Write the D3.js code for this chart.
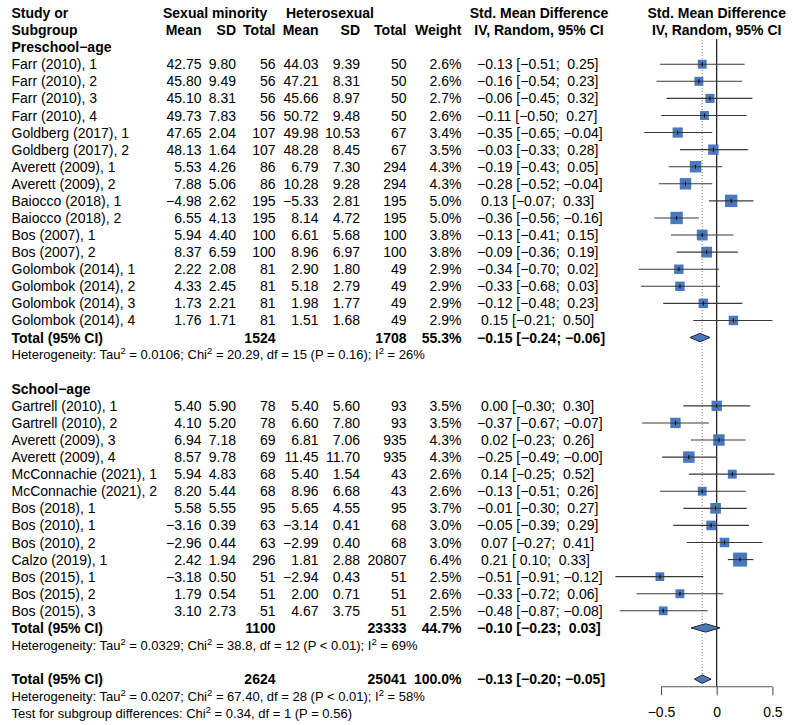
<!DOCTYPE html>
<html>
<head>
<meta charset="utf-8">
<script src="https://cdn.jsdelivr.net/npm/d3@7"></script>
<style>
  body { margin: 0; background: #fff; }
  svg { display: block; }
  text { font-family: "Liberation Sans", Arial, Helvetica, sans-serif; fill: #000; white-space: pre; }
</style>
</head>
<body>
<svg id="chart" width="793" height="725"></svg>
<script>
// ---------- DATA ----------
const studies = [
  "Farr (2010), 1","Farr (2010), 2","Farr (2010), 3","Farr (2010), 4",
  "Goldberg (2017), 1","Goldberg (2017), 2","Averett (2009), 1","Averett (2009), 2",
  "Baiocco (2018), 1","Baiocco (2018), 2","Bos (2007), 1","Bos (2007), 2",
  "Golombok (2014), 1","Golombok (2014), 2","Golombok (2014), 3","Golombok (2014), 4",
  "Gartrell (2010), 1","Gartrell (2010), 2","Averett (2009), 3","Averett (2009), 4",
  "McConnachie (2021), 1","McConnachie (2021), 2","Bos (2018), 1","Bos (2010), 1",
  "Bos (2010), 2","Calzo (2019), 1","Bos (2015), 1","Bos (2015), 2","Bos (2015), 3"
];
const studyGroup = [0,0,0,0,0,0,0,0,0,0,0,0,0,0,0,0, 1,1,1,1,1,1,1,1,1,1,1,1,1];
const minorityMean = [42.75,45.80,45.10,49.73,47.65,48.13,5.53,7.88,-4.98,6.55,5.94,8.37,2.22,4.33,1.73,1.76,
  5.40,4.10,6.94,8.57,5.94,8.20,5.58,-3.16,-2.96,2.42,-3.18,1.79,3.10];
const minoritySD = [9.80,9.49,8.31,7.83,2.04,1.64,4.26,5.06,2.62,4.13,4.40,6.59,2.08,2.45,2.21,1.71,
  5.90,5.20,7.18,9.78,4.83,5.44,5.55,0.39,0.44,1.94,0.50,0.54,2.73];
const minorityN = [56,56,56,56,107,107,86,86,195,195,100,100,81,81,81,81,
  78,78,69,69,68,68,95,63,63,296,51,51,51];
const heteroMean = [44.03,47.21,45.66,50.72,49.98,48.28,6.79,10.28,-5.33,8.14,6.61,8.96,2.90,5.18,1.98,1.51,
  5.40,6.60,6.81,11.45,5.40,8.96,5.65,-3.14,-2.99,1.81,-2.94,2.00,4.67];
const heteroSD = [9.39,8.31,8.97,9.48,10.53,8.45,7.30,9.28,2.81,4.72,5.68,6.97,1.80,2.79,1.77,1.68,
  5.60,7.80,7.06,11.70,1.54,6.68,4.55,0.41,0.40,2.88,0.43,0.71,3.75];
const heteroN = [50,50,50,50,67,67,294,294,195,195,100,100,49,49,49,49,
  93,93,935,935,43,43,95,68,68,20807,51,51,51];
const weights = [2.6,2.6,2.7,2.6,3.4,3.5,4.3,4.3,5.0,5.0,3.8,3.8,2.9,2.9,2.9,2.9,
  3.5,3.5,4.3,4.3,2.6,2.6,3.7,3.0,3.0,6.4,2.5,2.6,2.5];
const smd = [-0.13,-0.16,-0.06,-0.11,-0.35,-0.03,-0.19,-0.28,0.13,-0.36,-0.13,-0.09,-0.34,-0.33,-0.12,0.15,
  0.00,-0.37,0.02,-0.25,0.14,-0.13,-0.01,-0.05,0.07,0.21,-0.51,-0.33,-0.48];
const ciLower = [-0.51,-0.54,-0.45,-0.50,-0.65,-0.33,-0.43,-0.52,-0.07,-0.56,-0.41,-0.36,-0.70,-0.68,-0.48,-0.21,
  -0.30,-0.67,-0.23,-0.49,-0.25,-0.51,-0.30,-0.39,-0.27,0.10,-0.91,-0.72,-0.87];
const ciUpper = [0.25,0.23,0.32,0.27,-0.04,0.28,0.05,-0.04,0.33,-0.16,0.15,0.19,0.02,0.03,0.23,0.50,
  0.30,-0.07,0.26,-0.00,0.52,0.26,0.27,0.29,0.41,0.33,-0.12,0.06,-0.08];

// subgroup + overall summaries
const groupLabels = ["Preschool\u2212age", "School\u2212age"];
const summaryLabels = ["Total (95% CI)", "Total (95% CI)", "Total (95% CI)"];
const summaryMinorityN = [1524, 1100, 2624];
const summaryHeteroN = [1708, 23333, 25041];
const summaryWeight = [55.3, 44.7, 100.0];
const summarySMD = [-0.15, -0.10, -0.13];
const summaryLower = [-0.24, -0.23, -0.20];
const summaryUpper = [-0.06, 0.03, -0.05];
const hetTau2 = ["0.0106", "0.0329", "0.0207"];
const hetChi2 = ["20.29", "38.8", "67.40"];
const hetDf = [15, 12, 28];
const hetP = ["= 0.16", "< 0.01", "< 0.01"];
const hetI2 = ["26%", "69%", "58%"];
const testChi2 = "0.34", testDf = 1, testP = "0.56";

const axisTicks = [-0.5, 0, 0.5];
const axisTickLabels = ["\u22120.5", "0", "0.5"];

// ---------- LAYOUT ----------
const svg = d3.select("#chart");
const FS = 14, FS_SMALL = 13;
const row = d3.scaleLinear().domain([0, 41]).range([13, 713.3]);
const x = d3.scaleLinear().domain([-0.5, 0.5]).range([661, 772.4]);
const boxSize = d3.scaleSqrt().domain([0, 6.4]).range([0, 14]);
const blue = "#4a78bf";

const col = { study: 11.5, m1: 201.5, sd1: 236, n1: 275.5, m2: 318.5, sd2: 360, n2: 406.5, w: 461.5, smd: 477 };

const minus = v => (v < 0 || Object.is(v, -0)) ? "\u2212" : "";
const f2 = v => minus(v) + Math.abs(v).toFixed(2);
const fpad = v => ((v < 0 || Object.is(v, -0)) ? "\u2212" : " ") + Math.abs(v).toFixed(2);
const ciText = (e, lo, hi) => fpad(e) + " [" + fpad(lo) + "; " + fpad(hi) + "]";

function txt(xp, r, s, opts = {}) {
  const fs = opts.size || FS;
  return svg.append("text")
    .attr("x", xp).attr("y", row(r) + 0.36 * fs)
    .attr("text-anchor", opts.anchor || "start")
    .attr("font-size", fs)
    .attr("font-weight", opts.bold ? "bold" : "normal")
    .text(s);
}

// headers
txt(col.study, 0, "Study or", { bold: true });
txt(col.study, 1, "Subgroup", { bold: true });
txt(163, 0, "Sexual minority", { bold: true });
txt(286, 0, "Heterosexual", { bold: true });
[["Mean", col.m1], ["SD", col.sd1], ["Total", col.n1], ["Mean", col.m2], ["SD", col.sd2], ["Total", col.n2], ["Weight", col.w]]
  .forEach(([s, xp]) => txt(xp, 1, s, { bold: true, anchor: "end" }));
txt(539, 0, "Std. Mean Difference", { bold: true, anchor: "middle" });
txt(539, 1, "IV, Random, 95% CI", { bold: true, anchor: "middle" });
txt(x(0), 0, "Std. Mean Difference", { bold: true, anchor: "middle" });
txt(x(0), 1, "IV, Random, 95% CI", { bold: true, anchor: "middle" });

// row assignment
const groupStartRow = [2, 22];
const studyRow = studies.map((s, i) => {
  const g = studyGroup[i];
  const idx = studyGroup.slice(0, i).filter(v => v === g).length;
  return groupStartRow[g] + 1 + idx;
});
const summaryRow = [19, 36, 39];
const hetRow = [20, 37, 40];

// reference lines
const yTop = 39, yAxis = 686.7;
svg.append("line").attr("x1", x(summarySMD[2])).attr("x2", x(summarySMD[2]))
  .attr("y1", yTop - 2).attr("y2", row(39) - 4)
  .attr("stroke", "#777").attr("stroke-width", 1).attr("stroke-dasharray", "1,2");
svg.append("line").attr("x1", x(0)).attr("x2", x(0))
  .attr("y1", yTop).attr("y2", yAxis)
  .attr("stroke", "#000").attr("stroke-width", 1.1);

// group labels
groupLabels.forEach((g, k) => txt(col.study, groupStartRow[k], g, { bold: true }));

// study rows
studies.forEach((s, i) => {
  const r = studyRow[i];
  txt(col.study, r, s);
  txt(col.m1, r, f2(minorityMean[i]), { anchor: "end" });
  txt(col.sd1, r, minoritySD[i].toFixed(2), { anchor: "end" });
  txt(col.n1, r, String(minorityN[i]), { anchor: "end" });
  txt(col.m2, r, f2(heteroMean[i]), { anchor: "end" });
  txt(col.sd2, r, heteroSD[i].toFixed(2), { anchor: "end" });
  txt(col.n2, r, String(heteroN[i]), { anchor: "end" });
  txt(col.w, r, weights[i].toFixed(1) + "%", { anchor: "end" });
  txt(col.smd, r, ciText(smd[i], ciLower[i], ciUpper[i]));

  const cy = row(r), bs = boxSize(weights[i]);
  svg.append("rect").attr("x", x(smd[i]) - bs / 2).attr("y", cy - bs / 2)
    .attr("width", bs).attr("height", bs).attr("fill", blue);
  svg.append("line").attr("x1", x(ciLower[i])).attr("x2", x(ciUpper[i]))
    .attr("y1", cy).attr("y2", cy).attr("stroke", "#3a3a3a").attr("stroke-width", 1.1);
  svg.append("line").attr("x1", x(smd[i])).attr("x2", x(smd[i]))
    .attr("y1", cy - 2).attr("y2", cy + 2).attr("stroke", "#000").attr("stroke-width", 1);
});

// summary rows
summaryRow.forEach((r, k) => {
  txt(col.study, r, summaryLabels[k], { bold: true });
  txt(col.n1, r, String(summaryMinorityN[k]), { bold: true, anchor: "end" });
  txt(col.n2, r, String(summaryHeteroN[k]), { bold: true, anchor: "end" });
  txt(col.w, r, summaryWeight[k].toFixed(1) + "%", { bold: true, anchor: "end" });
  txt(col.smd, r, ciText(summarySMD[k], summaryLower[k], summaryUpper[k]), { bold: true });
  const cy = row(r), h = 4.2;
  const pts = [[x(summaryLower[k]), cy], [x(summarySMD[k]), cy - h], [x(summaryUpper[k]), cy], [x(summarySMD[k]), cy + h]];
  svg.append("path").attr("d", d3.line()(pts) + "Z")
    .attr("fill", blue).attr("stroke", "#222").attr("stroke-width", 1);
});

// heterogeneity rows (plain baseline, superscripts raised); fitted to the reference line length
function richText(r, parts, rightEdge) {
  const t = svg.append("text").attr("x", col.study).attr("y", row(r) + 0.36 * FS_SMALL)
    .attr("font-size", FS_SMALL);
  let raised = false;
  parts.forEach(p => {
    const ts = t.append("tspan");
    if (p.sup) {
      ts.attr("dy", -5).attr("font-size", 9.5).text(p.sup);
      raised = true;
    } else {
      if (raised) { ts.attr("dy", 5); raised = false; }
      ts.text(p.t);
    }
  });
  const w = t.node().getComputedTextLength();
  const target = rightEdge - col.study;
  if (w > 0 && Math.abs(w - target) > 3) {
    const k = target / w;
    const fs = Math.max(11, Math.min(14, FS_SMALL * k));
    t.attr("font-size", fs).attr("y", row(r) + 0.36 * fs);
    t.selectAll("tspan").filter(function () { return d3.select(this).attr("font-size"); })
      .attr("font-size", 9.5 * fs / FS_SMALL);
  }
}
hetRow.forEach((r, k) => {
  richText(r, [
    { t: "Heterogeneity: Tau" }, { sup: "2" },
    { t: " = " + hetTau2[k] + "; Chi" }, { sup: "2" },
    { t: " = " + hetChi2[k] + ", df = " + hetDf[k] + " (P " + hetP[k] + "); I" }, { sup: "2" },
    { t: " = " + hetI2[k] }
  ], k === 1 ? 417 : 424);
});
richText(41, [
  { t: "Test for subgroup differences: Chi" }, { sup: "2" },
  { t: " = " + testChi2 + ", df = " + testDf + " (P = " + testP + ")" }
], 352);

// axis
const axis = d3.axisBottom(x).tickValues(axisTicks).tickSize(8.5).tickSizeOuter(0)
  .tickFormat((d, i) => axisTickLabels[i]);
const ag = svg.append("g").attr("transform", `translate(0,${yAxis})`).call(axis);
ag.attr("font-family", null).attr("font-size", null);
ag.selectAll("path, line").attr("stroke", "#555").attr("stroke-width", 1.1);
ag.select(".domain").attr("d", `M${x(-0.5)},0H${x(0.5)}`);
ag.selectAll("text").attr("font-size", FS).attr("y", 20.5).attr("dy", "0.71em")
  .style("fill", "#000");
</script>
</body>
</html>
